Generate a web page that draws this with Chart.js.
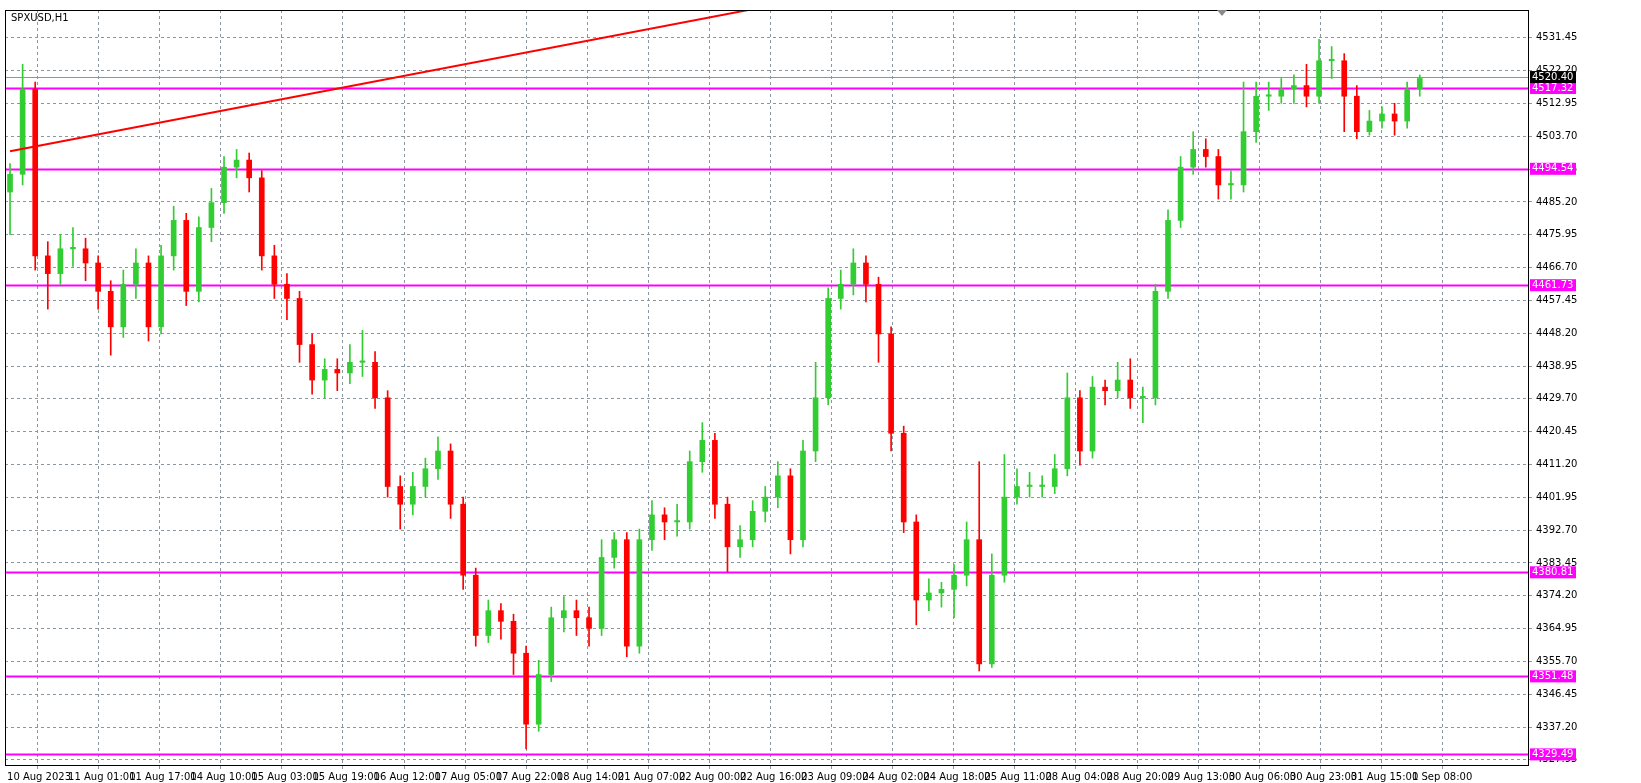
<!DOCTYPE html>
<html><head><meta charset="utf-8">
<script src="https://cdn.jsdelivr.net/npm/chart.js@4"></script>
<style>html,body{margin:0;background:#fff;overflow:hidden}</style>
</head><body><canvas id="c" width="1641" height="783" style="width:1641px;height:783px;display:block"></canvas>
<script>
const closes=[4493,4517,4470,4465,4472,4472,4468,4460,4450,4462,4468,4450,4470,4480,4460,4478,4485,4495,4497,4492,4470,4462,4458,4445,4435,4438,4437,4440,4440,4430,4405,4400,4405,4410,4415,4400,4380,4363,4370,4367,4358,4338,4352,4368,4370,4368,4365,4385,4390,4360,4390,4397,4395,4395,4412,4418,4400,4388,4390,4398,4402,4408,4390,4415,4430,4458,4462,4468,4462,4448,4420,4395,4373,4375,4376,4380,4390,4355,4380,4402,4405,4405,4405,4410,4430,4415,4433,4432,4435,4430,4430,4460,4480,4495,4500,4498,4490,4490,4505,4515,4515,4517,4518,4515,4525,4525,4515,4505,4508,4510,4508,4517,4520];
const firstOpen=4488;
const highs=[4496,4524,4519,4474,4476,4478,4475,4470,4463,4466,4472,4470,4473,4484,4482,4481,4489,4498,4500,4499,4494,4473,4465,4460,4448,4441,4441,4445,4449,4443,4432,4408,4409,4413,4419,4417,4402,4382,4373,4372,4369,4360,4356,4371,4374,4373,4371,4390,4392,4392,4393,4401,4399,4400,4415,4423,4420,4402,4394,4401,4405,4412,4410,4418,4440,4461,4466,4472,4470,4464,4450,4422,4397,4379,4378,4383,4395,4412,4386,4414,4410,4409,4408,4414,4437,4432,4436,4435,4440,4441,4433,4462,4483,4498,4505,4503,4500,4494,4519,4519,4519,4520,4521,4524,4531,4529,4527,4518,4511,4512,4513,4519,4521];
const lows=[4476,4490,4466,4455,4462,4467,4463,4455,4442,4447,4458,4446,4448,4466,4456,4457,4474,4482,4492,4488,4466,4458,4452,4440,4431,4430,4432,4434,4436,4427,4402,4393,4397,4402,4407,4396,4376,4360,4361,4362,4352,4331,4336,4350,4364,4363,4360,4363,4382,4357,4358,4387,4390,4391,4393,4409,4396,4381,4385,4388,4395,4399,4386,4388,4412,4428,4455,4459,4457,4440,4415,4392,4366,4370,4371,4368,4377,4353,4354,4378,4400,4402,4402,4403,4408,4411,4413,4428,4430,4427,4423,4428,4458,4478,4493,4495,4486,4486,4488,4502,4511,4513,4513,4512,4513,4520,4505,4503,4504,4506,4504,4506,4515];
const xTickLabels=["10 Aug 2023","11 Aug 01:00","11 Aug 17:00","14 Aug 10:00","15 Aug 03:00","15 Aug 19:00","16 Aug 12:00","17 Aug 05:00","17 Aug 22:00","18 Aug 14:00","21 Aug 07:00","22 Aug 00:00","22 Aug 16:00","23 Aug 09:00","24 Aug 02:00","24 Aug 18:00","25 Aug 11:00","28 Aug 04:00","28 Aug 20:00","29 Aug 13:00","30 Aug 06:00","30 Aug 23:00","31 Aug 15:00","1 Sep 08:00"];
const levels=[4517.32,4494.54,4461.73,4380.81,4351.48,4329.49];
const lastPrice=4520.40;
const trend=[[0,4499.5],[70,4547.0]];

const opens=closes.map((c,i)=>i?closes[i-1]:firstOpen);
const up=closes.map((c,i)=>c>=opens[i]);
const bodies=closes.map((c,i)=>({x:i,y:[opens[i],c===opens[i]?c+0.4:c]}));
const wicks=closes.map((c,i)=>({x:i,y:[lows[i],highs[i]]}));
const xTickPos=xTickLabels.map((_,k)=>-0.24+4.853*k);
const yTicks=[];for(let k=0;k<=22;k++)yTicks.push(+(4531.45-9.25*k).toFixed(2));

const overlay={id:'ov',
 beforeDatasetsDraw(ch){const {ctx,chartArea:a,scales:{y}}=ch;ctx.save();
  ctx.strokeStyle='#ff00ff';ctx.lineWidth=2;
  levels.forEach(l=>{const py=Math.round(y.getPixelForValue(l))+0.5;ctx.beginPath();ctx.moveTo(a.left,py);ctx.lineTo(a.right,py);ctx.stroke();});
  ctx.strokeStyle='#8a96a0';ctx.lineWidth=1;const lp=Math.round(y.getPixelForValue(lastPrice))+0.5;ctx.beginPath();ctx.moveTo(a.left,lp);ctx.lineTo(a.right,lp);ctx.stroke();
  ctx.restore();},
 afterDraw(ch){const {ctx,chartArea:a,scales:{y}}=ch;ctx.save();
  ctx.strokeStyle='#000';ctx.lineWidth=1;ctx.strokeRect(a.left+0.5,a.top+0.5,a.right-a.left,a.bottom-a.top);
  ctx.font='10px "DejaVu Sans"';ctx.textBaseline='middle';
  const box=(v,bg)=>{const py=y.getPixelForValue(v);ctx.fillStyle=bg;ctx.fillRect(a.right+2,py-6,46,12);ctx.fillStyle='#fff';ctx.fillText(v.toFixed(2),a.right+4,py);};
  levels.forEach(l=>box(l,'#ff00ff'));box(lastPrice,'#000');
  ctx.fillStyle='#000';ctx.fillText('SPXUSD,H1',a.left+6,a.top+8);
  ctx.fillStyle='#8a8a8a';ctx.beginPath();ctx.moveTo(1217,a.top);ctx.lineTo(1227,a.top);ctx.lineTo(1222,a.top+6);ctx.fill();
  ctx.restore();}};

new Chart(document.getElementById('c'),{
 data:{datasets:[
  {type:'bar',data:wicks,backgroundColor:up.map(u=>u?'#32cd32':'#ff0000'),barThickness:1,grouped:false,order:2},
  {type:'bar',data:bodies,backgroundColor:up.map(u=>u?'#32cd32':'#ff0000'),barThickness:5,grouped:false,order:1},
  {type:'line',data:trend.map(p=>({x:p[0],y:p[1]})),borderColor:'#ff0000',borderWidth:2,pointRadius:0,order:0,clip:true}
 ]},
 options:{responsive:false,devicePixelRatio:1,animation:false,
  layout:{padding:{left:5,top:5,right:0,bottom:0}},
  plugins:{legend:{display:false},tooltip:{enabled:false}},
  scales:{
   x:{type:'linear',min:-0.4,max:120.6,offset:false,
    afterBuildTicks(s){s.ticks=xTickPos.map(v=>({value:v}));},
    afterFit(s){s.height=18;},
    ticks:{autoSkip:false,maxRotation:0,align:'start',font:{size:10,family:'DejaVu Sans'},color:'#000',padding:2,
     callback:(v,i)=>xTickLabels[i]},
    grid:{color:'#8a96a0',tickLength:4,drawTicks:true},border:{dash:[3,3],display:false}},
   y:{position:'right',min:4326.5,max:4539.3,
    afterBuildTicks(s){s.ticks=yTicks.map(v=>({value:v}));},
    afterFit(s){s.width=113;},
    ticks:{autoSkip:false,font:{size:10,family:'DejaVu Sans'},color:'#000',padding:4,callback:v=>v.toFixed(2)},
    grid:{color:'#8a96a0',tickLength:4},border:{dash:[3,3],display:false}}
  }},
 plugins:[overlay]});
</script></body></html>
